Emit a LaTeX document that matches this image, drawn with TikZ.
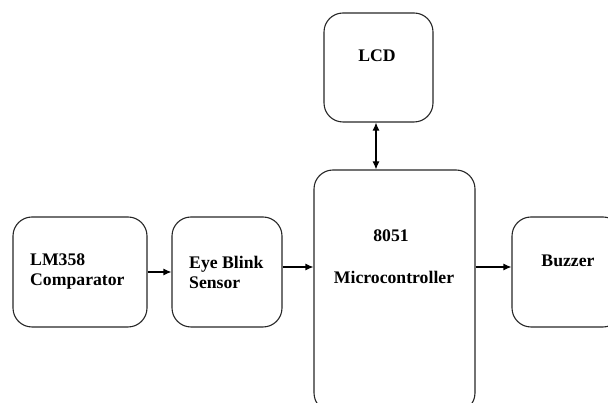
\documentclass[tikz,border=0pt]{standalone}
\usepackage{fontspec}
\setmainfont{Liberation Serif}
\usetikzlibrary{arrows.meta}
\begin{document}
\begin{tikzpicture}[x=1pt,y=1pt,
  blk/.style={draw=black!85, line width=1.1pt, rounded corners=19pt, minimum width=#1, inner sep=0pt},
  lbl/.style={font=\bfseries\fontsize{17.7}{20}\selectfont, inner sep=0pt, align=left},
  tip/.style={Latex[length=8pt,width=7pt]},
  conn/.style={line width=1.1pt, -{Latex[length=8pt,width=7pt]}}]
\useasboundingbox (0,0) rectangle (608,403);
\node[blk=134pt, minimum height=110pt] (lm) at (80,131) {};
\node[blk=110pt, minimum height=110pt] (eye) at (227,131) {};
\node[blk=161pt, minimum height=242pt] (mcu) at (394.5,112) {};
\node[blk=109pt, minimum height=109pt] (lcd) at (378.5,335.5) {};
\node[blk=110pt, minimum height=110pt] (buz) at (567,131) {};
\node[lbl, anchor=west] (lmt) at (30,131) {LM358\\Comparator};
\node[lbl, anchor=west] (eyet) at (189,131) {Eye Blink\\Sensor};
\node[lbl] (lcdt) at (377,347) {LCD};
\node[lbl] (mt1) at (391,167) {8051};
\node[lbl] (mt2) at (394,126) {Microcontroller};
\node[lbl] (buzt) at (568,142) {Buzzer};
\coordinate (ar) at (0,136);
\draw[conn] (lm.east) -- (eye.west);
\draw[conn] (eye.east |- ar) -- (mcu.west |- ar);
\draw[conn] (mcu.east |- ar) -- (buz.west |- ar);
\draw[line width=1.1pt, {Latex[length=8pt,width=7pt]}-{Latex[length=8pt,width=7pt]}] (lcd.south -| 376,0) -- (mcu.north -| 376,0);
\end{tikzpicture}
\end{document}
